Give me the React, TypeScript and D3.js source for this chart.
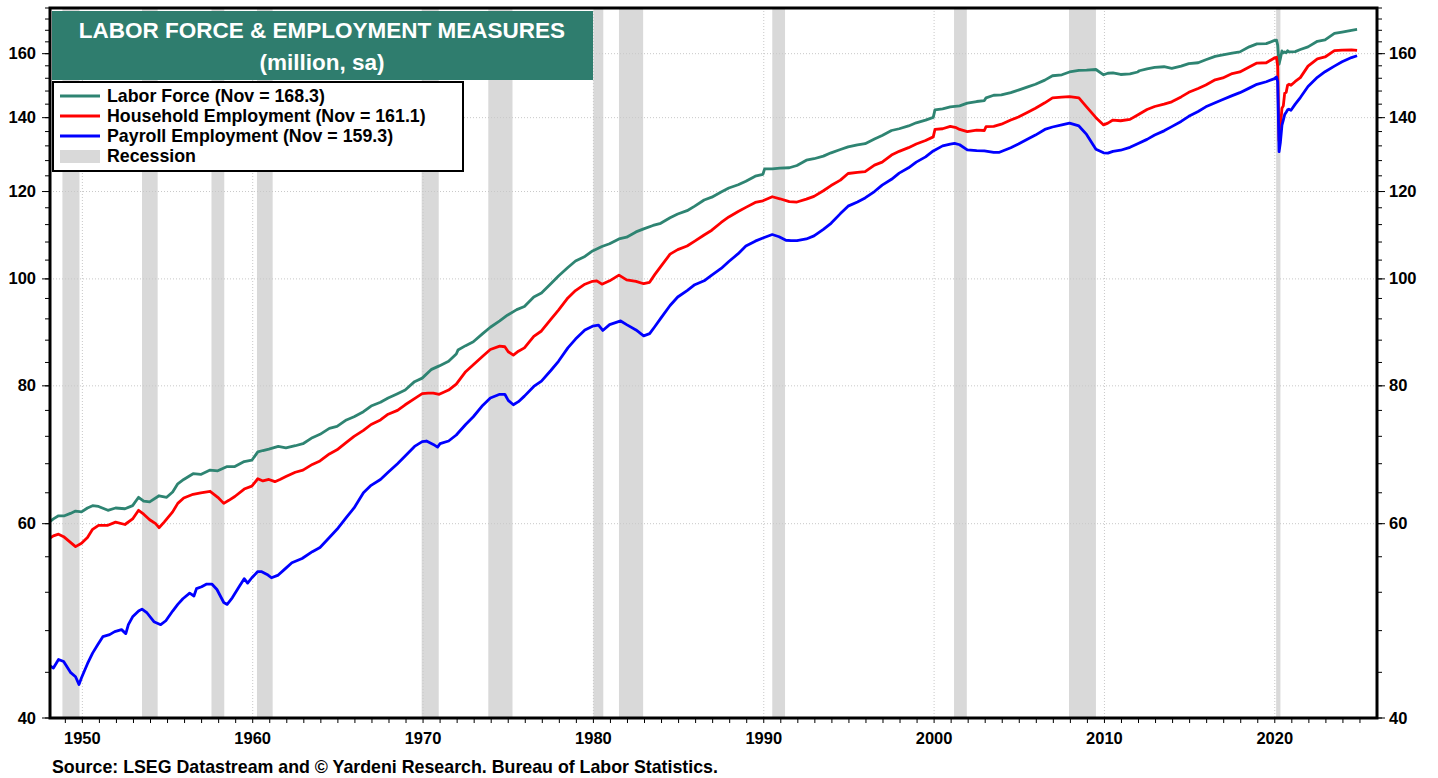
import React from "react";
import * as d3 from "d3";

// monthly-ish readings, millions, seasonally adjusted [decimal year, value]
const laborForce: [number, number][] = [
  [1948.0, 60.1], [1948.3, 60.6], [1948.6, 61.0], [1948.95, 61.0], [1949.3, 61.3], [1949.6, 61.6], [1949.95, 61.5],
  [1950.3, 62.0], [1950.6, 62.3], [1950.95, 62.2], [1951.5, 61.7], [1951.95, 62.0], [1952.5, 61.9], [1952.95, 62.3],
  [1953.3, 63.4], [1953.6, 62.9], [1953.95, 62.8], [1954.5, 63.6], [1954.95, 63.4], [1955.3, 64.1], [1955.6, 65.2],
  [1955.95, 65.8], [1956.5, 66.6], [1956.95, 66.5], [1957.5, 67.1], [1957.95, 67.0], [1958.5, 67.6], [1958.95, 67.6],
  [1959.5, 68.3], [1959.95, 68.5], [1960.3, 69.7], [1960.6, 69.9], [1960.95, 70.1], [1961.5, 70.5], [1961.95, 70.3],
  [1962.5, 70.6], [1962.95, 70.9], [1963.5, 71.8], [1963.95, 72.3], [1964.5, 73.2], [1964.95, 73.5], [1965.5, 74.5],
  [1965.95, 75.0], [1966.5, 75.8], [1966.95, 76.7], [1967.5, 77.3], [1967.95, 78.0], [1968.5, 78.7], [1968.95, 79.3],
  [1969.5, 80.7], [1969.95, 81.3], [1970.5, 82.8], [1970.95, 83.4], [1971.5, 84.2], [1971.95, 85.5], [1972.05, 86.2],
  [1972.5, 87.0], [1972.95, 87.7], [1973.5, 89.2], [1973.95, 90.4], [1974.5, 91.6], [1974.95, 92.7], [1975.5, 93.8],
  [1975.95, 94.4], [1976.5, 96.3], [1976.95, 97.1], [1977.5, 99.0], [1977.95, 100.6], [1978.5, 102.4], [1978.95, 103.8],
  [1979.5, 104.8], [1979.95, 106.0], [1980.5, 107.0], [1980.95, 107.6], [1981.5, 108.7], [1981.95, 109.1], [1982.5, 110.3],
  [1982.95, 111.0], [1983.5, 111.8], [1983.95, 112.3], [1984.5, 113.6], [1984.95, 114.5], [1985.5, 115.3], [1985.95, 116.4],
  [1986.5, 117.9], [1986.95, 118.6], [1987.5, 119.9], [1987.95, 120.9], [1988.5, 121.7], [1988.95, 122.6], [1989.5, 123.9],
  [1989.95, 124.4], [1990.05, 125.8], [1990.5, 125.8], [1990.95, 126.0], [1991.5, 126.1], [1991.95, 126.7], [1992.5, 128.1],
  [1992.95, 128.5], [1993.5, 129.2], [1993.95, 130.1], [1994.5, 131.0], [1994.95, 131.7], [1995.5, 132.3], [1995.95, 132.6],
  [1996.5, 133.9], [1996.95, 134.9], [1997.5, 136.3], [1997.95, 136.8], [1998.5, 137.6], [1998.95, 138.5], [1999.5, 139.3],
  [1999.95, 140.1], [2000.05, 142.3], [2000.5, 142.6], [2000.95, 143.2], [2001.5, 143.5], [2001.95, 144.3], [2002.5, 144.8],
  [2002.95, 145.1], [2003.05, 145.9], [2003.5, 146.7], [2003.95, 146.8], [2004.5, 147.5], [2004.95, 148.3], [2005.5, 149.3],
  [2005.95, 150.1], [2006.5, 151.4], [2006.95, 152.8], [2007.5, 153.1], [2007.95, 154.0], [2008.5, 154.5], [2008.95, 154.6],
  [2009.5, 154.8], [2009.95, 153.1], [2010.2, 153.6], [2010.5, 153.7], [2010.95, 153.2], [2011.5, 153.4], [2011.95, 154.0],
  [2012.05, 154.4], [2012.5, 155.0], [2012.95, 155.5], [2013.5, 155.7], [2013.95, 155.2], [2014.5, 155.9], [2014.95, 156.7],
  [2015.5, 157.0], [2015.95, 158.0], [2016.5, 159.1], [2016.95, 159.6], [2017.5, 160.2], [2017.95, 160.6], [2018.5, 162.3],
  [2018.95, 163.3], [2019.5, 163.4], [2019.95, 164.4], [2020.1, 164.6], [2020.17, 162.9], [2020.25, 156.5], [2020.33, 158.4],
  [2020.42, 160.9], [2020.5, 160.3], [2020.58, 160.6], [2020.67, 160.3], [2020.75, 161.0], [2020.83, 160.6], [2020.95, 160.6],
  [2021.2, 160.7], [2021.5, 161.4], [2021.95, 162.3], [2022.5, 164.2], [2022.95, 164.7], [2023.5, 166.9], [2023.95, 167.4],
  [2024.5, 168.0], [2024.83, 168.3],
];

const householdEmp: [number, number][] = [
  [1948.0, 58.1], [1948.3, 58.5], [1948.6, 58.7], [1948.9, 58.4], [1949.3, 57.7], [1949.6, 57.2], [1949.95, 57.6],
  [1950.3, 58.3], [1950.6, 59.3], [1950.95, 59.8], [1951.5, 59.8], [1951.95, 60.2], [1952.5, 59.9], [1952.95, 60.6],
  [1953.3, 61.7], [1953.6, 61.2], [1953.95, 60.5], [1954.3, 60.0], [1954.5, 59.5], [1954.8, 60.2], [1955.3, 61.5],
  [1955.6, 62.6], [1955.95, 63.3], [1956.5, 63.8], [1956.95, 64.0], [1957.5, 64.2], [1957.95, 63.4], [1958.3, 62.6],
  [1958.6, 63.0], [1958.95, 63.5], [1959.5, 64.5], [1959.95, 64.9], [1960.3, 65.9], [1960.6, 65.6], [1960.95, 65.8],
  [1961.3, 65.5], [1961.6, 65.8], [1961.95, 66.2], [1962.5, 66.8], [1962.95, 67.1], [1963.5, 67.9], [1963.95, 68.4],
  [1964.5, 69.4], [1964.95, 70.0], [1965.5, 71.1], [1965.95, 72.0], [1966.5, 72.9], [1966.95, 73.8], [1967.5, 74.5],
  [1967.95, 75.4], [1968.5, 76.0], [1968.95, 76.9], [1969.5, 77.9], [1969.95, 78.7], [1970.3, 78.8], [1970.6, 78.8],
  [1970.95, 78.6], [1971.5, 79.3], [1971.95, 80.3], [1972.5, 82.4], [1972.95, 83.6], [1973.5, 85.1], [1973.95, 86.3],
  [1974.5, 86.9], [1974.8, 86.8], [1975.0, 85.9], [1975.3, 85.3], [1975.6, 86.0], [1975.95, 86.6], [1976.5, 88.7],
  [1976.95, 89.7], [1977.5, 91.9], [1977.95, 93.7], [1978.5, 96.1], [1978.95, 97.6], [1979.5, 98.9], [1979.95, 99.5],
  [1980.2, 99.6], [1980.5, 98.9], [1980.95, 99.6], [1981.5, 100.8], [1981.95, 99.8], [1982.5, 99.5], [1982.95, 99.0],
  [1983.3, 99.3], [1983.6, 100.9], [1983.95, 102.6], [1984.5, 105.3], [1984.95, 106.3], [1985.5, 107.1], [1985.95, 108.2],
  [1986.5, 109.6], [1986.95, 110.7], [1987.5, 112.5], [1987.95, 113.8], [1988.5, 115.1], [1988.95, 116.1], [1989.5, 117.3],
  [1989.95, 117.7], [1990.5, 118.7], [1990.95, 118.2], [1991.5, 117.5], [1991.95, 117.4], [1992.5, 118.1], [1992.95, 118.8],
  [1993.5, 120.2], [1993.95, 121.5], [1994.5, 122.9], [1994.95, 124.6], [1995.5, 124.9], [1995.95, 125.1], [1996.5, 126.8],
  [1996.95, 127.6], [1997.5, 129.5], [1997.95, 130.5], [1998.5, 131.5], [1998.95, 132.5], [1999.5, 133.5], [1999.95, 134.5],
  [2000.05, 136.6], [2000.5, 136.8], [2000.95, 137.5], [2001.3, 137.1], [2001.5, 136.6], [2001.95, 136.0], [2002.5, 136.4],
  [2002.95, 136.3], [2003.05, 137.4], [2003.5, 137.5], [2003.95, 138.1], [2004.5, 139.3], [2004.95, 140.2], [2005.5, 141.6],
  [2005.95, 142.8], [2006.5, 144.4], [2006.95, 145.9], [2007.5, 146.1], [2007.95, 146.3], [2008.5, 145.9], [2008.95, 143.2],
  [2009.5, 140.0], [2009.95, 137.9], [2010.2, 138.4], [2010.5, 139.3], [2010.95, 139.1], [2011.5, 139.5], [2011.95, 140.8],
  [2012.5, 142.4], [2012.95, 143.3], [2013.5, 144.0], [2013.95, 144.7], [2014.5, 146.2], [2014.95, 147.6], [2015.5, 148.8],
  [2015.95, 149.9], [2016.5, 151.5], [2016.95, 152.1], [2017.5, 153.5], [2017.95, 154.0], [2018.5, 155.6], [2018.95, 156.9],
  [2019.5, 157.0], [2019.95, 158.5], [2020.1, 158.8], [2020.17, 155.8], [2020.25, 133.4], [2020.33, 137.2], [2020.42, 142.8],
  [2020.5, 143.5], [2020.58, 147.3], [2020.67, 147.6], [2020.75, 149.8], [2020.83, 150.1], [2020.95, 149.8], [2021.2, 151.0],
  [2021.5, 152.2], [2021.95, 155.9], [2022.5, 158.3], [2022.95, 158.9], [2023.5, 161.0], [2023.95, 161.2], [2024.5, 161.3],
  [2024.83, 161.1],
];

const payrollEmp: [number, number][] = [
  [1948.0, 44.7], [1948.3, 44.4], [1948.6, 45.2], [1948.9, 45.0], [1949.3, 44.0], [1949.6, 43.6], [1949.8, 42.9],
  [1949.95, 43.5], [1950.3, 44.8], [1950.6, 45.8], [1950.9, 46.6], [1951.2, 47.4], [1951.6, 47.6], [1951.9, 47.9],
  [1952.3, 48.1], [1952.55, 47.7], [1952.7, 48.6], [1952.95, 49.4], [1953.3, 50.0], [1953.5, 50.2], [1953.8, 49.8],
  [1954.2, 48.9], [1954.6, 48.6], [1954.9, 49.0], [1955.3, 50.0], [1955.6, 50.7], [1955.9, 51.3], [1956.3, 51.9],
  [1956.55, 51.6], [1956.7, 52.4], [1957.0, 52.6], [1957.3, 52.9], [1957.6, 52.9], [1957.9, 52.3], [1958.3, 50.9],
  [1958.5, 50.7], [1958.8, 51.4], [1959.2, 52.6], [1959.5, 53.5], [1959.7, 53.0], [1959.95, 53.6], [1960.3, 54.3],
  [1960.5, 54.3], [1960.9, 53.9], [1961.1, 53.6], [1961.5, 53.9], [1961.9, 54.6], [1962.3, 55.3], [1962.9, 55.8],
  [1963.5, 56.6], [1963.95, 57.1], [1964.5, 58.3], [1964.95, 59.3], [1965.5, 60.8], [1965.95, 62.0], [1966.5, 64.0],
  [1966.95, 65.0], [1967.5, 65.8], [1967.95, 66.8], [1968.5, 68.0], [1968.95, 69.1], [1969.5, 70.5], [1969.95, 71.2],
  [1970.2, 71.3], [1970.6, 70.8], [1970.85, 70.4], [1971.0, 70.9], [1971.5, 71.3], [1971.95, 72.2], [1972.5, 73.8],
  [1972.95, 75.0], [1973.5, 76.8], [1973.95, 78.0], [1974.5, 78.6], [1974.8, 78.6], [1975.0, 77.6], [1975.3, 76.9],
  [1975.6, 77.4], [1975.95, 78.3], [1976.5, 79.9], [1976.95, 80.8], [1977.5, 82.6], [1977.95, 84.2], [1978.5, 86.6],
  [1978.95, 88.2], [1979.5, 89.9], [1979.95, 90.6], [1980.3, 90.8], [1980.55, 89.8], [1980.95, 90.9], [1981.6, 91.6],
  [1981.95, 90.9], [1982.5, 89.9], [1982.95, 88.8], [1983.3, 89.2], [1983.6, 90.5], [1983.95, 92.1], [1984.5, 94.6],
  [1984.95, 96.3], [1985.5, 97.6], [1985.95, 98.8], [1986.5, 99.6], [1986.95, 100.8], [1987.5, 102.2], [1987.95, 103.7],
  [1988.5, 105.4], [1988.95, 107.1], [1989.5, 108.2], [1989.95, 108.9], [1990.5, 109.7], [1990.9, 109.2], [1991.3, 108.4],
  [1991.6, 108.3], [1991.95, 108.3], [1992.5, 108.7], [1992.95, 109.4], [1993.5, 110.9], [1993.95, 112.3], [1994.5, 114.6],
  [1994.95, 116.4], [1995.5, 117.4], [1995.95, 118.4], [1996.5, 120.0], [1996.95, 121.6], [1997.5, 123.1], [1997.95, 124.7],
  [1998.5, 126.1], [1998.95, 127.6], [1999.5, 129.0], [1999.95, 130.6], [2000.5, 132.0], [2000.95, 132.5], [2001.2, 132.7],
  [2001.5, 132.3], [2001.95, 130.9], [2002.5, 130.7], [2002.95, 130.6], [2003.5, 130.2], [2003.8, 130.2], [2004.5, 131.5],
  [2004.95, 132.5], [2005.5, 133.9], [2005.95, 135.0], [2006.5, 136.6], [2006.95, 137.3], [2007.5, 137.9], [2007.95, 138.4],
  [2008.5, 137.6], [2008.95, 135.2], [2009.5, 131.1], [2009.95, 130.1], [2010.2, 130.0], [2010.5, 130.5], [2010.95, 130.8],
  [2011.5, 131.6], [2011.95, 132.6], [2012.5, 133.8], [2012.95, 135.0], [2013.5, 136.2], [2013.95, 137.4], [2014.5, 138.9],
  [2014.95, 140.4], [2015.5, 141.8], [2015.95, 143.2], [2016.5, 144.4], [2016.95, 145.4], [2017.5, 146.6], [2017.95, 147.5],
  [2018.5, 148.9], [2018.95, 150.1], [2019.5, 150.9], [2019.95, 151.8], [2020.1, 152.4], [2020.17, 150.9], [2020.25, 130.4],
  [2020.33, 133.0], [2020.42, 137.8], [2020.5, 139.3], [2020.58, 140.9], [2020.67, 141.6], [2020.75, 142.3], [2020.83, 142.5],
  [2020.95, 142.2], [2021.2, 144.0], [2021.5, 146.0], [2021.95, 149.4], [2022.5, 152.3], [2022.95, 154.1], [2023.5, 155.9],
  [2023.95, 157.3], [2024.5, 158.7], [2024.83, 159.3],
];

// NBER recessions, peak month to trough month
const recessionStart = [1948.83, 1953.5, 1957.58, 1960.25, 1969.92, 1973.83, 1980.0, 1981.5, 1990.5, 2001.17, 2007.92, 2020.08];
const recessionEnd = [1949.83, 1954.42, 1958.33, 1961.17, 1970.92, 1975.25, 1980.58, 1982.92, 1991.25, 2001.92, 2009.5, 2020.33];

const yLabels = [40, 60, 80, 100, 120, 140, 160];
const xLabels = [1950, 1960, 1970, 1980, 1990, 2000, 2010, 2020];

const seriesNames = ["Labor Force (Nov = 168.3)", "Household Employment (Nov = 161.1)", "Payroll Employment (Nov = 159.3)"];
const seriesColors = ["#2E8472", "#FF0000", "#0000FF"];

const W = 1438;
const H = 778;
const plot = { left: 50, right: 1377, top: 8, bottom: 718 };
const FONT = "'Liberation Sans', Arial, Helvetica, sans-serif";

export default function App() {
  const x = d3.scaleLinear().domain([1948.1, 2026.0]).range([plot.left, plot.right]);
  const y = d3.scaleLog().domain([40, 176]).range([plot.bottom, plot.top]);

  const line = d3
    .line<[number, number]>()
    .x((d) => x(d[0]))
    .y((d) => y(d[1]));

  const minorY = d3.range(40, 177, 4);
  const minorX = d3.range(1949, 2026, 1);
  const allSeries = [laborForce, householdEmp, payrollEmp];

  return (
    <div style={{ position: "absolute", left: 0, top: 0 }}>
      <svg width={W} height={H} style={{ display: "block", background: "#fff" }} fontFamily={FONT}>
        <defs>
          <clipPath id="plotclip">
            <rect x={plot.left} y={plot.top} width={plot.right - plot.left} height={plot.bottom - plot.top} />
          </clipPath>
        </defs>

        {/* recession shading */}
        {recessionStart.map((s, i) => (
          <rect
            key={"r" + i}
            x={x(s)}
            y={plot.top}
            width={Math.max(2, x(recessionEnd[i]) - x(s))}
            height={plot.bottom - plot.top}
            fill="#D9D9D9"
          />
        ))}

        {/* grid */}
        {yLabels.slice(1).map((v) => (
          <line key={"gy" + v} x1={plot.left} x2={plot.right} y1={y(v)} y2={y(v)} stroke="#C8C8C8" strokeWidth={1} strokeDasharray="1,2" />
        ))}
        {xLabels.map((v) => (
          <line key={"gx" + v} x1={x(v)} x2={x(v)} y1={plot.top} y2={plot.bottom} stroke="#C8C8C8" strokeWidth={1} strokeDasharray="1,2" />
        ))}

        {/* series */}
        <g clipPath="url(#plotclip)">
          {allSeries.map((s, i) => (
            <path key={"s" + i} d={line(s) ?? ""} fill="none" stroke={seriesColors[i]} strokeWidth={2.8} strokeLinejoin="round" />
          ))}
        </g>

        {/* title box */}
        <rect x={52} y={11} width={541} height={69} fill="#2F7D6E" />
        <text x={322} y={38} textAnchor="middle" fill="#fff" fontSize={22.5} fontWeight="bold">
          LABOR FORCE &amp; EMPLOYMENT MEASURES
        </text>
        <text x={322} y={70} textAnchor="middle" fill="#fff" fontSize={22.5} fontWeight="bold">
          (million, sa)
        </text>

        {/* legend */}
        <rect x={53} y={82} width={410} height={89} fill="#fff" stroke="#000" strokeWidth={2} />
        {seriesNames.map((n, i) => (
          <g key={"l" + i}>
            <line x1={60} x2={100} y1={96 + i * 20} y2={96 + i * 20} stroke={seriesColors[i]} strokeWidth={2.8} />
            <text x={107} y={102 + i * 20} fontSize={17.8} fontWeight="bold" fill="#000">
              {n}
            </text>
          </g>
        ))}
        <rect x={60} y={150} width={40} height={13} fill="#D9D9D9" />
        <text x={107} y={162} fontSize={17.8} fontWeight="bold" fill="#000">
          Recession
        </text>

        {/* y ticks */}
        {minorY.map((v) => (
          <g key={"ty" + v}>
            <line x1={plot.left - 5} x2={plot.left} y1={y(v)} y2={y(v)} stroke="#000" strokeWidth={1} />
            <line x1={plot.right} x2={plot.right + 5} y1={y(v)} y2={y(v)} stroke="#000" strokeWidth={1} />
          </g>
        ))}
        {yLabels.map((v) => (
          <g key={"yl" + v}>
            <line x1={plot.left - 8} x2={plot.left} y1={y(v)} y2={y(v)} stroke="#000" strokeWidth={1} />
            <line x1={plot.right} x2={plot.right + 8} y1={y(v)} y2={y(v)} stroke="#000" strokeWidth={1} />
            <text x={36} y={y(v) + 5.5} textAnchor="end" fontSize={16.5} fontWeight="bold">
              {v}
            </text>
            <text x={1389} y={y(v) + 5.5} textAnchor="start" fontSize={16.5} fontWeight="bold">
              {v}
            </text>
          </g>
        ))}

        {/* x ticks */}
        {minorX.map((v) => (
          <line key={"tx" + v} x1={x(v)} x2={x(v)} y1={plot.bottom} y2={plot.bottom + 5} stroke="#000" strokeWidth={1} />
        ))}
        {xLabels.map((v) => (
          <text key={"xl" + v} x={x(v)} y={744} textAnchor="middle" fontSize={16.5} fontWeight="bold">
            {v}
          </text>
        ))}

        {/* frame */}
        <rect
          x={plot.left}
          y={plot.top}
          width={plot.right - plot.left}
          height={plot.bottom - plot.top}
          fill="none"
          stroke="#000"
          strokeWidth={3}
        />

        <text x={52} y={773} fontSize={17.8} fontWeight="bold">
          Source: LSEG Datastream and © Yardeni Research. Bureau of Labor Statistics.
        </text>
      </svg>
    </div>
  );
}
